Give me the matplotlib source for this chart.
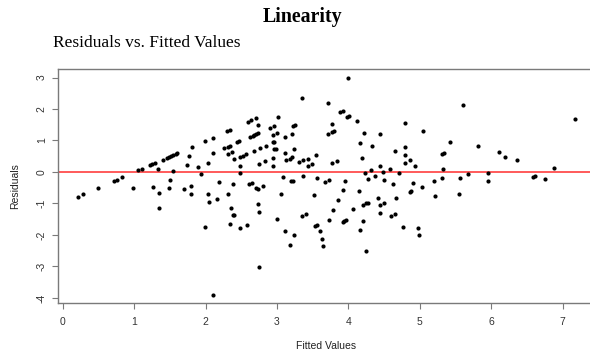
import matplotlib
matplotlib.use("Agg")
import matplotlib.pyplot as plt

# fitted values and residuals
fitted = [
    0.22, 0.29, 0.49, 0.72, 0.76, 0.83, 0.98, 1.05, 1.11, 1.22, 1.25, 1.29,
    1.27, 1.34, 1.35, 1.35, 1.40, 1.46, 1.49, 1.52, 1.55, 1.58, 1.60, 1.50,
    1.49, 1.54, 1.70, 1.74, 1.77, 1.81, 1.79, 1.80, 1.90, 1.93, 1.99, 1.99,
    2.04, 2.04, 2.05, 2.10, 2.10, 2.10, 2.16, 2.19, 2.26, 2.30, 2.34, 2.31,
    2.34, 2.32, 2.37, 2.32, 2.34, 2.36, 2.38, 2.40, 2.39, 2.40, 2.44, 2.47,
    2.48, 2.48, 2.48, 2.49, 2.53, 2.57, 2.58, 2.60, 2.64, 2.61, 2.65, 2.62,
    2.66, 2.68, 2.71, 2.74, 2.71, 2.74, 2.68, 2.71, 2.73, 2.73, 2.75, 2.75,
    2.75, 2.77, 2.80, 2.83, 2.85, 2.91, 2.96, 2.94, 2.94, 2.96, 2.95, 2.95,
    2.96, 2.99, 3.00, 3.01, 3.00, 3.06, 3.09, 3.12, 3.12, 3.12, 3.13, 3.18,
    3.21, 3.18, 3.20, 3.22, 3.21, 3.22, 3.25, 3.24, 3.24, 3.31,
    3.35, 3.37, 3.43, 3.44, 3.49, 3.37, 3.35, 3.41, 3.52, 3.55, 3.56, 3.53,
    3.56, 3.61, 3.63, 3.64, 3.71, 3.72, 3.77, 3.77, 3.80, 3.77, 3.84, 3.67,
    3.73, 3.73, 3.79, 3.86, 3.92, 3.95, 3.88, 3.93, 3.98, 4.01, 4.00, 3.92,
    3.94, 3.97, 4.06, 4.12, 4.17, 4.22, 4.19, 4.24, 4.28, 4.32, 4.33, 4.15,
    4.20, 4.20, 4.17, 4.25, 4.28, 4.25, 4.37, 4.42, 4.44, 4.45, 4.50, 4.44,
    4.45, 4.49, 4.50, 4.59, 4.60, 4.63, 4.66, 4.66, 4.67, 4.71, 4.76, 4.79,
    4.79, 4.79, 4.79, 4.87, 4.86, 4.88, 4.91, 4.94, 4.98, 4.99, 5.03, 5.05,
    5.20, 5.22, 5.31, 5.34, 5.32, 5.31, 5.43, 5.55, 5.57, 5.61, 5.68, 5.81,
    5.95, 5.96, 6.11, 6.20, 6.36, 6.58, 6.62, 6.76, 6.88, 7.18,
]
residuals = [
    -0.78, -0.71, -0.51, -0.28, -0.24, -0.17, -0.52, 0.05, 0.11, 0.21, 0.24, 0.29,
    -0.48, 0.10, -0.66, -1.15, 0.39, 0.44, 0.49, 0.52, 0.55, 0.58, 0.59, -0.24,
    -0.51, 0.04, -0.55, 0.23, 0.52, 0.80, -0.46, -0.70, 0.15, -0.06, 0.98, -1.76,
    0.29, -0.71, -0.95, 1.09, 0.60, -3.90, -0.85, -0.32, 0.76, 1.31, 1.34, 0.80,
    0.84, 0.57, 0.62, -0.69, -1.66, -1.14, -1.38, -1.36, -0.37, 0.40, 0.94, 0.97,
    0.20, -0.02, -1.77, 0.49, 0.52, 0.56, -1.67, 1.60, 1.65, -0.39, -0.36, 1.12,
    1.15, 1.19, 1.22, 1.25, 1.71, 1.50, 0.68, -0.52, -0.53, -1.02, -1.26, -3.01,
    0.25, 0.75, -0.46, 0.34, 0.84, 1.41, 1.46, 1.19, 0.95, 0.96, 0.44, 0.20,
    0.72, 0.72, 1.25, 1.76, -1.50, -0.69, -0.16, 1.11, -1.88, 0.61, 0.37, 0.42,
    0.47, -2.32, -0.30, -0.28, 1.22, 1.46, 1.50, -1.99, 0.74, 0.32,
    2.36, 0.38, 0.42, 0.18, 0.24, -0.13, -1.40, -1.33, -0.73, 0.55, -0.19, -1.70,
    -1.68, -1.88, -2.12, -2.35, 2.20, 1.22, 1.51, 1.27, 1.30, 0.28, 0.36, -0.32,
    -0.26, -1.51, -1.21, -0.88, -0.58, -0.30, 1.89, 1.94, 1.74, 1.77, 2.99, -1.59,
    -1.57, -1.53, -1.19, 1.62, 0.92, 1.23, 0.43, -0.02, -0.21, 0.07, 0.83, -0.59,
    -1.05, -1.56, -1.83, -0.99, -0.97, -2.50, -0.13, -0.83, -1.06, -1.30, -0.99, 1.20,
    0.20, -0.01, -0.24, 0.10, -1.40, -0.37, 0.67, -1.33, -0.83, -0.04, -1.74, 0.79,
    1.54, 0.54, 0.30, 0.38, -0.63, -0.61, -0.34, 0.19, -1.77, -2.01, -0.47, 1.30,
    -0.30, -0.77, 0.57, 0.60, 0.08, -0.18, 0.94, -0.69, -0.18, 2.12, -0.06, 0.81,
    -0.30, -0.03, 0.62, 0.46, 0.37, -0.17, -0.13, -0.23, 0.14, 1.68,
]

x_ticks = [0, 1, 2, 3, 4, 5, 6, 7]
y_ticks = [-4, -3, -2, -1, 0, 1, 2, 3]

gray = "#7a7a7a"
sans = ["Liberation Sans", "DejaVu Sans"]
serif = ["Liberation Serif", "DejaVu Serif"]

fig = plt.figure(figsize=(5.9, 3.54), dpi=100)
# axes run past the right edge, like the cropped original
ax = fig.add_axes([58 / 590, 1 - 303 / 354, 537 / 590, 234 / 354])

ax.scatter(fitted, residuals, s=9, color="black", linewidths=0, zorder=3)
ax.axhline(0, color="#ff5a5a", lw=1.4, zorder=2)

ax.set_xlim(-0.066, 7.455)
ax.set_ylim(-4.16, 3.27)
ax.set_xticks(x_ticks)
ax.set_yticks(y_ticks)
ax.set_xticklabels([str(t) for t in x_ticks], family=sans, fontsize=7.5, color="#333333")
ax.set_yticklabels([str(t) for t in y_ticks], family=sans, fontsize=7.5, color="#333333",
                   rotation=90, va="center")
ax.tick_params(axis="x", color=gray, length=4, width=0.8, pad=6)
ax.tick_params(axis="y", color=gray, length=4, width=0.8, pad=4)

for side in ax.spines.values():
    side.set_color(gray)
    side.set_linewidth(1.0)

ax.set_xlabel("Fitted Values", family=sans, fontsize=7.5, color="#222222", labelpad=10)
ax.set_ylabel("Residuals", family=sans, fontsize=7.5, color="#222222", labelpad=12)

fig.text(302 / 590, 1 - 17 / 354, "Linearity", family=serif, fontsize=14.3, fontweight="bold",
         ha="center", va="center")
fig.text(53 / 590, 1 - 43 / 354, "Residuals vs. Fitted Values", family=serif, fontsize=12.5,
         ha="left", va="center")

fig.savefig("out.png", dpi=100)
